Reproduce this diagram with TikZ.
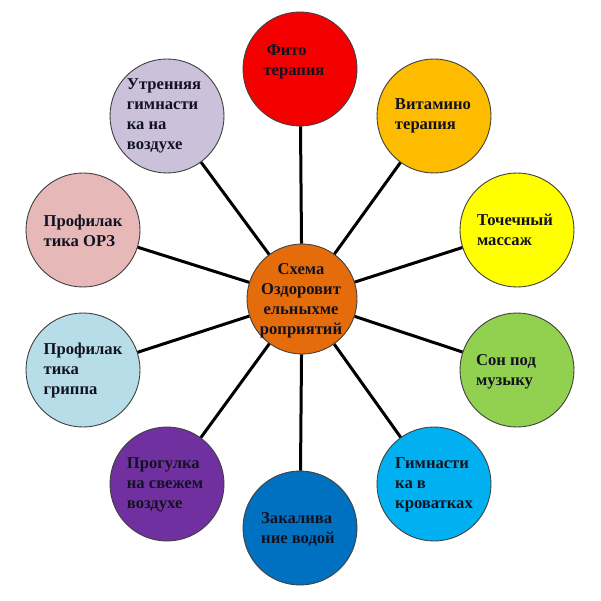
\documentclass[tikz,border=0pt]{standalone}
\usepackage{fontspec}
\setmainfont{Liberation Serif}
\begin{document}
\begin{tikzpicture}[x=1pt,y=-1pt,
  bub/.style={circle,draw=black!75,line width=0.9pt,minimum size=114pt,inner sep=0pt},
  txt/.style={align=left,font=\bfseries\fontsize{16.6}{20}\selectfont,text=textc,inner sep=0pt},
  link/.style={line width=3pt,black}]
\definecolor{textc}{RGB}{18,18,34}
\definecolor{cRed}{RGB}{245,0,0}
\definecolor{cAmber}{RGB}{253,188,0}
\definecolor{cYellow}{RGB}{255,255,0}
\definecolor{cGreen}{RGB}{146,208,80}
\definecolor{cSky}{RGB}{0,176,240}
\definecolor{cBlue}{RGB}{0,112,192}
\definecolor{cPurple}{RGB}{112,48,160}
\definecolor{cIce}{RGB}{183,222,232}
\definecolor{cPink}{RGB}{230,185,184}
\definecolor{cLav}{RGB}{204,193,218}
\definecolor{cOrange}{RGB}{228,108,10}
\useasboundingbox (0,0) rectangle (601,601);
\fill[white] (0,0) rectangle (601,601);
% circles
\node[bub,fill=cOrange,minimum size=110pt] (c) at (302,299) {};
\node[bub,fill=cRed] (n1) at (300,69) {};
\node[bub,fill=cAmber] (n2) at (434,116) {};
\node[bub,fill=cYellow] (n3) at (517,230) {};
\node[bub,fill=cGreen] (n4) at (517,370) {};
\node[bub,fill=cSky] (n5) at (434,484) {};
\node[bub,fill=cBlue] (n6) at (300,528) {};
\node[bub,fill=cPurple] (n7) at (167,484) {};
\node[bub,fill=cIce] (n8) at (83,370) {};
\node[bub,fill=cPink] (n9) at (83,230) {};
\node[bub,fill=cLav] (n10) at (167,116) {};
% connectors
\foreach \n in {n1,n2,n3,n4,n5,n6,n7,n8,n9,n10}
  \draw[link] (c) -- (\n);
% texts
\node[txt,align=center] (tc) at (301,301) {Схема\\Оздоровит\\ельныхме\\роприятий};
\node[txt] (t1) at (294,62) {\hspace*{3pt}Фито\\терапия};
\node[txt] (t2) at (433,116) {Витамино\\терапия};
\node[txt] (t3) at (515,230) {Точечный\\массаж};
\node[txt] (t4) at (506,372) {Сон под\\музыку};
\node[txt] (t5) at (434,485) {Гимнасти\\ка в\\кроватках};
\node[txt] (t6) at (298,529) {Закалива\\ние водой};
\node[txt] (t7) at (165,485) {Прогулка\\на свежем\\воздухе};
\node[txt] (t8) at (83,371) {Профилак\\тика\\гриппа};
\node[txt] (t9) at (83,231) {Профилак\\тика ОРЗ};
\node[txt] (t10) at (164,116) {Утренняя\\гимнасти\\ка на\\воздухе};
\end{tikzpicture}
\end{document}
